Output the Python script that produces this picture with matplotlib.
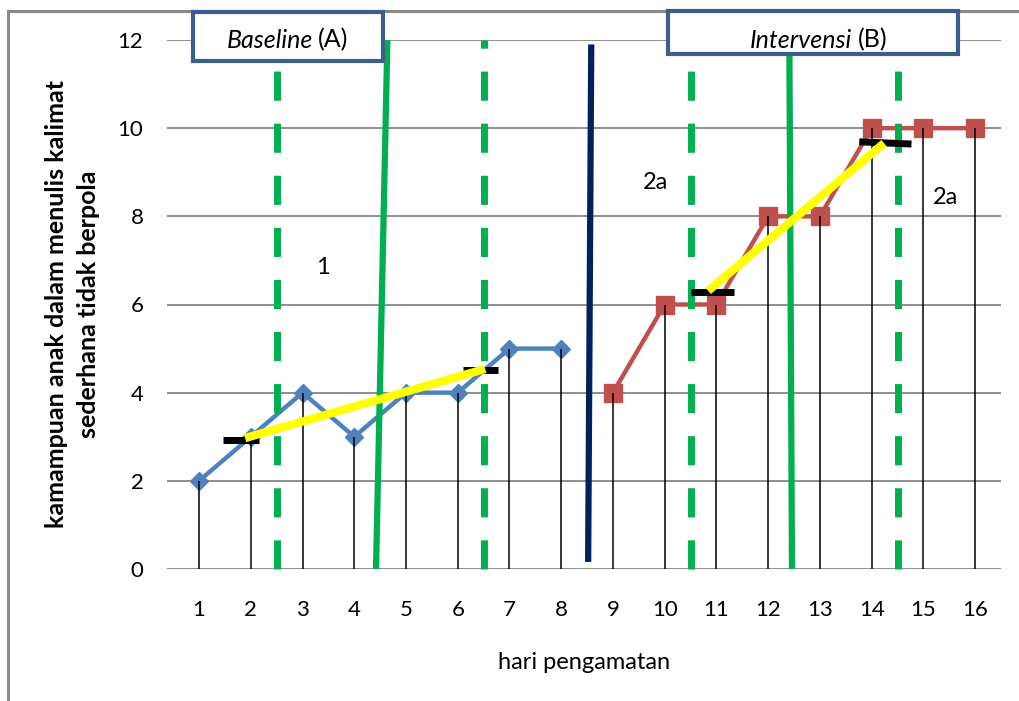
import matplotlib
matplotlib.use("Agg")
import matplotlib.pyplot as plt
from matplotlib.patches import Rectangle
from matplotlib.lines import Line2D

plt.rcParams['font.family'] = ['Lato', 'DejaVu Sans']
plt.rcParams['lines.scale_dashes'] = False

# ---- data ----
days = list(range(1, 17))
baseline_days = [1, 2, 3, 4, 5, 6, 7, 8]
baseline_vals = [2, 3, 4, 3, 4, 4, 5, 5]
interv_days = [9, 10, 11, 12, 13, 14, 15, 16]
interv_vals = [4, 6, 6, 8, 8, 10, 10, 10]
yticks = [0, 2, 4, 6, 8, 10, 12]

# phase / condition lines
dashed_x = [2.5, 6.5, 10.5, 14.5]
green_solid_1 = ([4.42, 4.64], [0, 12])
green_solid_2 = ([12.46, 12.41], [0, 11.8])
navy_line = ([8.52, 8.58], [0.16, 11.9])

# trend (split-middle) lines
trend_a_x = [1.89, 6.53]
trend_a_y = [2.97, 4.54]
trend_b_x = [10.84, 14.24]
trend_b_y = [6.31, 9.66]
# median markers
bars_x = [[1.47, 2.16], [6.10, 6.78], [10.51, 11.34], [13.76, 14.77]]
bars_y = [[2.93, 2.93], [4.51, 4.51], [6.28, 6.28], [9.69, 9.64]]

labels = [("1", 3.4, 6.85), ("2a", 9.82, 8.76), ("2a", 15.42, 8.42)]

W, H = 1019, 701
fig = plt.figure(figsize=(W / 100, H / 100), dpi=100)
ax = fig.add_axes([167 / W, 1 - 569 / H, (1001 - 167) / W, (569 - 40) / H])
ax.set_xlim(0.38, 16.5)
ax.set_ylim(0, 12)

for s in ax.spines.values():
    s.set_visible(False)
ax.set_yticks(yticks)
ax.set_xticks(days)
ax.tick_params(length=0, labelsize=16, colors='black')
ax.tick_params(axis='x', pad=22)
ax.tick_params(axis='y', pad=17)
ax.grid(axis='y', color='#868686', linewidth=1.3, zorder=0)
ax.set_axisbelow(True)

# data lines
ax.plot(baseline_days, baseline_vals, color='#4F81BD', lw=3.2, marker='D',
        ms=9, zorder=3, clip_on=False)
ax.plot(interv_days, interv_vals, color='#C0504D', lw=3.2, marker='s',
        ms=13, zorder=3, clip_on=False)
# drop lines
ax.vlines(baseline_days, 0, baseline_vals, color='black', lw=1.1, zorder=4)
ax.vlines(interv_days, 0, interv_vals, color='black', lw=1.1, zorder=4)

# dashed green lines
for x in dashed_x:
    ln, = ax.plot([x, x], [0, 12], color='#00B050', lw=5, zorder=5,
                  solid_capstyle='butt', dash_capstyle='butt', clip_on=False)
    ln.set_dashes((21, 16.5))

ax.plot(*green_solid_1, color='#00B050', lw=4.5, zorder=5, clip_on=False,
        solid_capstyle='butt')
ax.plot(*green_solid_2, color='#00B050', lw=4.5, zorder=5, clip_on=False,
        solid_capstyle='butt')
ax.plot(*navy_line, color='#002060', lw=4.5, zorder=5, clip_on=False,
        solid_capstyle='butt')

for bx, by in zip(bars_x, bars_y):
    ax.plot(bx, by, color='black', lw=5, zorder=6, solid_capstyle='butt')
ax.plot(trend_a_x, trend_a_y, color='#FFFF00', lw=6, zorder=7,
        solid_capstyle='butt')
ax.plot(trend_b_x, trend_b_y, color='#FFFF00', lw=6, zorder=7,
        solid_capstyle='butt')

for t, x, y in labels:
    ax.text(x, y, t, fontsize=17, ha='center', va='center', zorder=8)

ax.set_ylabel("kamampuan anak dalam menulis kalimat\nsederhana tidak berpola",
              fontsize=18, fontweight='bold', multialignment='center',
              linespacing=1.45, va='center', ha='center')
ax.yaxis.set_label_coords(-0.113, 0.5)
ax.set_xlabel("hari pengamatan", fontsize=17, va='center')
ax.xaxis.set_label_coords(0.5, -0.176)

# outer gray border (partial frame)
fig.add_artist(Line2D([8 / W, 8 / W], [0, 1 - 11 / H], color='#898989',
                      lw=2.2, transform=fig.transFigure))
fig.add_artist(Line2D([8 / W, 1], [1 - 11 / H, 1 - 11 / H], color='#898989',
                      lw=2.2, transform=fig.transFigure))

# phase title boxes
def box(x0, y0, x1, y1):
    r = Rectangle((x0 / W, 1 - y1 / H), (x1 - x0) / W, (y1 - y0) / H,
                  transform=fig.transFigure, facecolor='white',
                  edgecolor='#3C5E8C', lw=3, zorder=10)
    fig.add_artist(r)

box(193, 12, 383, 61)
box(668, 11, 958, 54)

fig.text(313 / W, 1 - 40 / H, "Baseline", style='italic', fontsize=18,
         ha='right', va='center', zorder=11)
fig.text(318 / W, 1 - 40 / H, "(A)", fontsize=18, ha='left', va='center',
         zorder=11)
fig.text(852 / W, 1 - 40 / H, "Intervensi", style='italic', fontsize=18,
         ha='right', va='center', zorder=11)
fig.text(858 / W, 1 - 40 / H, "(B)", fontsize=18, ha='left', va='center',
         zorder=11)

fig.savefig("out.png", dpi=100)
